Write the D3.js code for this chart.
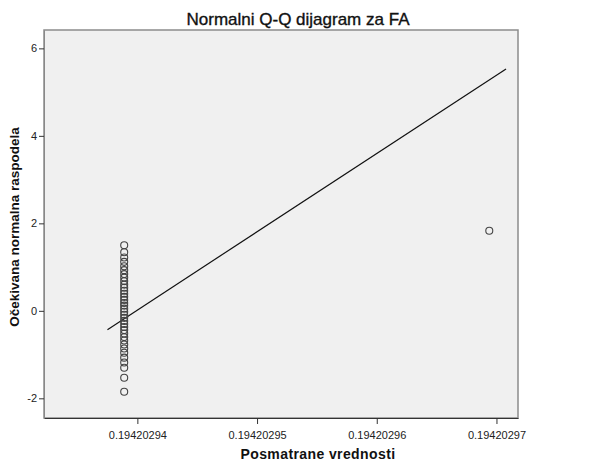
<!DOCTYPE html>
<html><head><meta charset="utf-8">
<script src="https://cdn.jsdelivr.net/npm/d3@7"></script>
<style>body{margin:0;background:#fff;}svg{display:block;font-family:"Liberation Sans",Arial,sans-serif;}</style>
</head><body>
<svg id="c" width="596" height="464"></svg>
<script>
const title = "Normalni Q-Q dijagram za FA";
const xTitle = "Posmatrane vrednosti";
const yTitle = "Očekivana normalna raspodela";
const xTicks = [0.19420294, 0.19420295, 0.19420296, 0.19420297];
const yTicks = [-2, 0, 2, 4, 6];
const xDomain = [0.1942029322, 0.1942029718];
const yDomain = [-2.45, 6.42];
// observed value of the clustered points and their expected normal values
const clusterX = 0.1942029389;
const clusterY = [1.50, 1.34, 1.22, 1.12, 1.02, 0.93, 0.84, 0.76, 0.68, 0.60, 0.53, 0.46, 0.39, 0.32, 0.25, 0.18, 0.12, 0.05, -0.02, -0.09, -0.16, -0.23, -0.30, -0.37, -0.44, -0.52, -0.60, -0.68, -0.77, -0.86, -0.96, -1.07, -1.18, -1.30, -1.53, -1.85];
const outlierX = [0.1942029694];
const outlierY = [1.83];
const refLineX = [0.1942029375, 0.1942029708];
const refLineY = [-0.43, 5.53];

const svg = d3.select("#c");
const m = {l:44, r:78, t:30, b:46};
const W = 596, H = 464;
const x = d3.scaleLinear().domain(xDomain).range([m.l, W - m.r]);
const y = d3.scaleLinear().domain(yDomain).range([H - m.b, m.t]);

svg.append("rect").attr("x", m.l).attr("y", m.t).attr("width", W-m.r-m.l).attr("height", H-m.b-m.t)
  .attr("fill", "#f0f0f0").attr("stroke", "#8c8c8c").attr("stroke-width", 1.5);

const gx = svg.append("g").attr("transform", `translate(0,${H-m.b})`)
  .call(d3.axisBottom(x).tickValues(xTicks).tickFormat(d3.format(".8f")).tickSize(6).tickSizeOuter(0));
gx.select(".domain").attr("stroke", "#333");
gx.selectAll(".tick line").attr("stroke", "#333");
gx.selectAll("text").attr("font-size", 11).attr("fill", "#222").attr("dy", "1.1em");

const gy = svg.append("g").attr("transform", `translate(${m.l},0)`)
  .call(d3.axisLeft(y).tickValues(yTicks).tickFormat(d => String(d)).tickSize(5).tickSizeOuter(0));
gy.select(".domain").attr("stroke", "#888");
gy.selectAll(".tick line").attr("stroke", "#333");
gy.selectAll("text").attr("font-size", 11).attr("fill", "#222").attr("dx", "0.1em");

svg.append("line")
  .attr("x1", x(refLineX[0])).attr("y1", y(refLineY[0]))
  .attr("x2", x(refLineX[1])).attr("y2", y(refLineY[1]))
  .attr("stroke", "#111").attr("stroke-width", 1.2);

const pts = clusterY.map(v => [clusterX, v]).concat(outlierX.map((v,i) => [v, outlierY[i]]));
svg.append("g").selectAll("circle").data(pts).join("circle")
  .attr("cx", d => x(d[0])).attr("cy", d => y(d[1])).attr("r", 3.5)
  .attr("fill", "none").attr("stroke", "#444").attr("stroke-width", 1.1);

svg.append("text").attr("x", 298).attr("y", 25).attr("text-anchor", "middle")
  .attr("font-size", 17).attr("fill", "#111").attr("stroke", "#111").attr("stroke-width", 0.35).text(title);
svg.append("text").attr("x", 318).attr("y", 459).attr("text-anchor", "middle")
  .attr("font-size", 14).attr("font-weight", "bold").attr("letter-spacing", 0.4).attr("fill", "#111").text(xTitle);
svg.append("text").attr("transform", `translate(19,${(m.t + H - m.b)/2 + 3}) rotate(-90)`).attr("text-anchor", "middle")
  .attr("font-size", 13.5).attr("font-weight", "bold").attr("fill", "#111").text(yTitle);
</script>
</body></html>
